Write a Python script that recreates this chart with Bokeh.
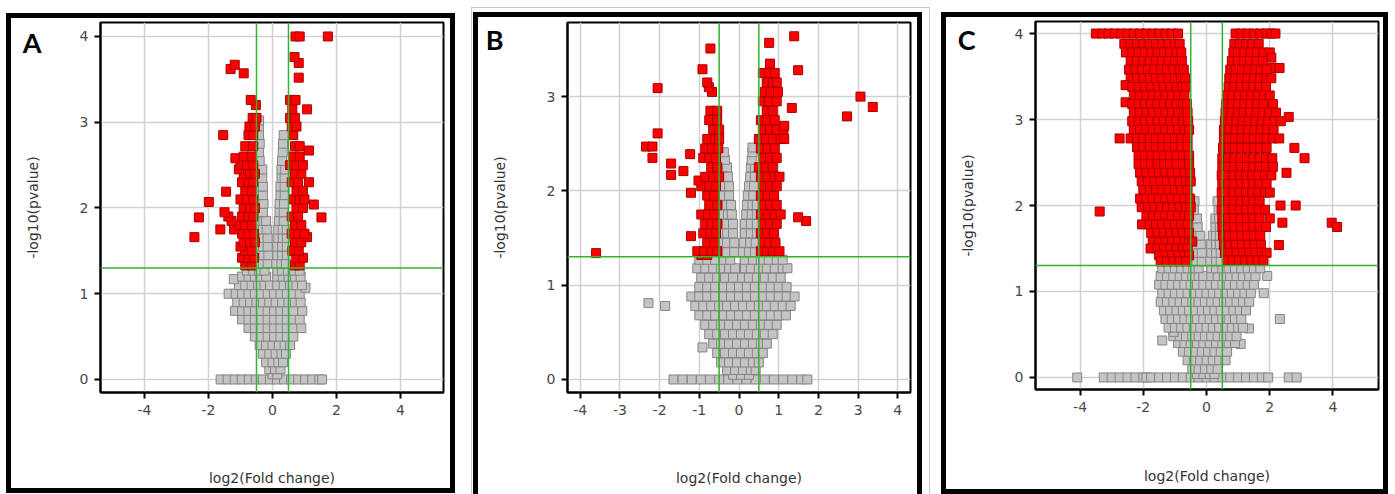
from bokeh.plotting import figure
from bokeh.models import Span, FixedTicker, Spacer, Range1d, LinearAxis
from bokeh.layouts import row, column
from bokeh.embed import file_html
from bokeh.resources import INLINE

X_LABEL = "log2(Fold change)"
Y_LABEL = "-log10(pvalue)"
FC_CUTOFF = [-0.5, 0.5]
P_CUTOFF = 1.30103
PANEL_LETTERS = ["A", "B", "C"]

# ---------------- Panel A ----------------
A_XTICKS = [-4, -2, 0, 2, 4]
A_XTICK_LABELS = ["-4", "-2", "0", "2", "4"]
A_YTICKS = [0, 1, 2, 3, 4]
A_GRAY_ROWS = [
    (0.0, [-1.62, -1.40, -1.18, -0.96, -0.74, -0.52, -0.30, -0.08, 0.14, 0.36, 0.58, 0.80, 1.02, 1.24, 1.46, 1.55]),
    (0.06, [0.0, 0.15]),
    (0.12, [-0.1, 0.08, 0.25]),
    (0.2, [-0.2, 0.0, 0.18, 0.33]),
    (0.3, [-0.3, -0.1, 0.1, 0.28, 0.42]),
    (0.4, [-0.4, -0.2, 0.0, 0.2, 0.38, 0.55]),
    (0.5, [-0.55, -0.35, -0.15, 0.05, 0.25, 0.45, 0.65]),
    (0.6, [-0.75, -0.55, -0.35, -0.15, 0.05, 0.25, 0.45, 0.65, 0.9]),
    (0.7, [-0.95, -0.75, -0.55, -0.35, -0.15, 0.05, 0.25, 0.45, 0.65, 0.85]),
    (0.8, [-1.17, -0.95, -0.75, -0.55, -0.35, -0.15, 0.05, 0.25, 0.45, 0.65, 0.93]),
    (0.9, [-1.1, -0.9, -0.7, -0.5, -0.3, -0.1, 0.1, 0.3, 0.5, 0.7, 0.88]),
    (1.0, [-1.37, -1.15, -0.95, -0.75, -0.55, -0.35, -0.15, 0.05, 0.25, 0.45, 0.65, 0.85]),
    (1.07, [1.03]),
    (1.1, [-1.05, -0.85, -0.65, -0.45, -0.25, -0.08, 0.15, 0.35, 0.55, 0.75, 0.92]),
    (1.17, [-1.21]),
    (1.2, [-0.95, -0.75, -0.55, -0.38, -0.2, 0.15, 0.32, 0.5, 0.7, 0.88]),
    (1.27, [-0.8, -0.6, -0.42, -0.25, 0.15, 0.3, 0.48, 0.68, 0.85]),
    (1.35, [-0.45, -0.3, -0.15, 0.12, 0.28, 0.42]),
    (1.45, [-0.42, -0.28, -0.13, 0.15, 0.3, 0.45]),
    (1.55, [-0.45, -0.3, -0.15, 0.15, 0.3, 0.45]),
    (1.65, [-0.42, -0.28, -0.15, 0.18, 0.32, 0.45]),
    (1.75, [-0.45, -0.3, -0.18, 0.18, 0.32, 0.45]),
    (1.85, [-0.42, -0.28, -0.2, 0.2, 0.35]),
    (1.95, [-0.45, -0.3, 0.22, 0.35]),
    (2.05, [-0.42, -0.28, 0.22, 0.36]),
    (2.15, [-0.4, -0.3, 0.25, 0.38]),
    (2.25, [-0.42, -0.3, 0.25, 0.38]),
    (2.35, [-0.4, -0.32, 0.28, 0.38]),
    (2.45, [-0.42, -0.32, 0.28, 0.4]),
    (2.55, [-0.4, 0.3]),
    (2.65, [-0.42, 0.32]),
    (2.75, [-0.4, 0.33]),
    (2.85, [-0.42, 0.35]),
    (2.95, [-0.42]),
    (3.02, [-0.42]),
]
A_RED_ROWS = [
    (1.33, [-0.85, -0.65, 0.7, 0.85]),
    (1.42, [-0.95, -0.75, -0.58, 0.75, 0.95]),
    (1.5, [-0.85, -0.65, 0.62, 0.82]),
    (1.55, [-1.0]),
    (1.6, [-0.9, -0.7, -0.55, 0.7, 0.9]),
    (1.66, [-2.44, 1.08]),
    (1.7, [-0.95, -0.75, -0.58, 0.6, 0.8, 1.0]),
    (1.75, [-1.63, -1.2]),
    (1.8, [-1.05, -0.85, -0.65, 0.7, 0.9]),
    (1.85, [-1.28]),
    (1.89, [-2.3, 1.53]),
    (1.9, [-1.38, -0.95, -0.75, -0.6, 0.6, 0.8]),
    (1.95, [-1.5]),
    (2.0, [-0.9, -0.7, -0.55, 0.75, 0.95]),
    (2.04, [1.29]),
    (2.07, [-1.99]),
    (2.1, [-1.0, -0.8, -0.6, 0.65, 0.85, 1.0]),
    (2.19, [-1.45]),
    (2.2, [-0.85, -0.65, 0.75, 0.95]),
    (2.3, [-0.95, -0.75, -0.6, 0.6, 0.8, 1.14]),
    (2.4, [-0.9, -0.7, -0.55, 0.7, 0.9]),
    (2.45, [-1.05]),
    (2.5, [-1.0, -0.8, -0.6, 0.55, 0.75, 0.95]),
    (2.58, [-1.16]),
    (2.6, [-0.9, -0.65, 0.65, 0.85]),
    (2.67, [1.14]),
    (2.72, [-0.85, -0.6, 0.7, 0.85]),
    (2.85, [-1.54, -0.75, -0.6, 0.65]),
    (2.95, [-0.72, -0.55, 0.6, 0.75]),
    (3.05, [-0.62, -0.5, 0.55, 0.7]),
    (3.15, [0.62, 1.08]),
    (3.2, [-0.52]),
    (3.26, [-0.68, 0.55, 0.72]),
    (3.52, [0.82]),
    (3.57, [-0.9]),
    (3.62, [-1.31]),
    (3.67, [-1.18]),
    (3.69, [0.82]),
    (3.76, [0.69]),
    (4.0, [0.72, 0.85, 1.73]),
]

# ---------------- Panel B ----------------
B_XTICKS = [-4, -3, -2, -1, 0, 1, 2, 3, 4]
B_XTICK_LABELS = ["-4", "-3", "-2", "-1", "0", "1", "2", "3", "4"]
B_YTICKS = [0, 1, 2, 3]
B_GRAY_ROWS = [
    (0.0, [-1.65, -1.42, -1.19, -0.96, -0.73, -0.5, -0.27, -0.04, 0.19, 0.42, 0.65, 0.88, 1.11, 1.34, 1.57, 1.72]),
    (0.05, [-0.15, 0.05, 0.25]),
    (0.1, [-0.3, -0.1, 0.1, 0.3, 0.42]),
    (0.18, [-0.45, -0.25, -0.05, 0.15, 0.35, 0.5]),
    (0.28, [-0.55, -0.35, -0.15, 0.05, 0.25, 0.45, 0.6]),
    (0.34, [-0.92]),
    (0.38, [-0.65, -0.45, -0.25, -0.05, 0.15, 0.35, 0.55, 0.7]),
    (0.48, [-0.75, -0.55, -0.35, -0.15, 0.05, 0.25, 0.45, 0.65, 0.85]),
    (0.58, [-0.85, -0.65, -0.45, -0.25, -0.05, 0.15, 0.35, 0.55, 0.75, 0.95]),
    (0.68, [-1.0, -0.8, -0.6, -0.4, -0.2, 0.0, 0.2, 0.4, 0.6, 0.8, 1.0, 1.18]),
    (0.78, [-1.86, -1.1, -0.9, -0.7, -0.5, -0.3, -0.1, 0.1, 0.3, 0.5, 0.7, 0.9, 1.1, 1.3]),
    (0.81, [-2.28]),
    (0.88, [-1.2, -1.0, -0.8, -0.6, -0.4, -0.2, 0.0, 0.2, 0.4, 0.6, 0.8, 1.0, 1.2, 1.4]),
    (0.98, [-1.0, -0.8, -0.6, -0.4, -0.2, 0.0, 0.2, 0.4, 0.6, 0.8, 1.0, 1.2]),
    (1.08, [-0.95, -0.75, -0.55, -0.35, -0.15, 0.08, 0.25, 0.45, 0.65, 0.85, 1.05]),
    (1.18, [-1.05, -0.85, -0.65, -0.45, -0.25, -0.1, 0.15, 0.3, 0.5, 0.7, 0.9, 1.1, 1.22]),
    (1.27, [-1.0, -0.8, -0.6, -0.4, -0.22, 0.15, 0.35, 0.55, 0.75, 0.95, 1.1]),
    (1.35, [-0.45, -0.3, -0.12, 0.1, 0.25, 0.4]),
    (1.45, [-0.45, -0.3, -0.12, 0.12, 0.28, 0.42]),
    (1.55, [-0.45, -0.3, -0.15, 0.15, 0.3, 0.45]),
    (1.65, [-0.45, -0.3, -0.15, 0.15, 0.3, 0.45]),
    (1.75, [-0.42, -0.28, -0.18, 0.18, 0.32, 0.45]),
    (1.85, [-0.45, -0.3, -0.2, 0.2, 0.34, 0.45]),
    (1.95, [-0.4, -0.25, 0.22, 0.36]),
    (2.05, [-0.42, -0.25, 0.25, 0.38]),
    (2.15, [-0.38, -0.28, 0.28, 0.4]),
    (2.25, [-0.4, -0.3, 0.3, 0.4]),
    (2.33, [-0.35, 0.32]),
    (2.41, [-0.38, 0.34]),
    (2.46, [0.34]),
]
B_RED_ROWS = [
    (1.32, [-0.95, -0.8]),
    (1.34, [-3.6]),
    (1.36, [-1.05, -0.88, -0.7, -0.55, 0.55, 0.7, 0.85, 1.02]),
    (1.45, [-0.8, -0.62, 0.6, 0.75, 0.92]),
    (1.52, [-1.21]),
    (1.55, [-0.9, -0.72, -0.58, 0.55, 0.7, 0.88]),
    (1.65, [-0.85, -0.7, -0.55, 0.6, 0.78, 0.95]),
    (1.68, [1.69]),
    (1.72, [1.49]),
    (1.75, [-0.95, -0.78, -0.62, 0.55, 0.72, 0.9, 1.05]),
    (1.85, [-0.75, -0.55, 0.6, 0.78, 0.95]),
    (1.95, [-0.8, -0.62, 0.55, 0.72, 0.88]),
    (1.98, [-1.21]),
    (2.05, [-0.95, -0.75, -0.58, 0.6, 0.78, 0.95]),
    (2.11, [-1.02]),
    (2.15, [-0.85, -0.65, -0.5, 0.55, 0.72, 0.9, 1.02]),
    (2.17, [-1.71]),
    (2.21, [-1.4]),
    (2.25, [-0.7, -0.55, 0.5, 0.68, 0.85]),
    (2.29, [-1.71]),
    (2.35, [-2.18, -0.9, -0.75, -0.58, 0.6, 0.78, 0.95]),
    (2.39, [-1.23]),
    (2.45, [-0.85, -0.68, -0.52, 0.55, 0.72, 0.9]),
    (2.47, [-2.34, -2.18]),
    (2.55, [-0.8, -0.6, -0.5, 0.5, 0.68, 0.85, 1.05, 1.14]),
    (2.61, [-2.05]),
    (2.65, [-0.65, -0.5, 0.6, 0.78, 0.95, 1.12]),
    (2.69, [1.14]),
    (2.75, [-0.75, -0.55, 0.55, 0.7, 0.9]),
    (2.79, [2.72]),
    (2.85, [-0.72, -0.55, 0.7, 0.85]),
    (2.88, [1.33]),
    (2.89, [3.37]),
    (2.95, [0.6, 0.75, 0.95]),
    (3.0, [3.06]),
    (3.05, [-0.68, 0.65, 0.8, 0.98]),
    (3.09, [-2.05]),
    (3.1, [-0.76]),
    (3.15, [-0.8, 0.7, 0.85, 0.95]),
    (3.25, [0.6, 0.75, 0.9]),
    (3.28, [1.49]),
    (3.29, [-0.92]),
    (3.35, [0.78]),
    (3.51, [-0.72]),
    (3.57, [0.76]),
    (3.64, [1.39]),
]

# ---------------- Panel C ----------------
C_XTICKS = [-4, -2, 0, 2, 4]
C_XTICK_LABELS = ["-4", "-2", "0", "2", "4"]
C_YTICKS = [0, 1, 2, 3, 4]
C_GRAY_ROWS = [
    (0.0, [-4.09, -3.25, -3.0, -2.75, -2.5, -2.25, -2.0, -1.9, -1.75, -1.5, -1.25, -1.0, -0.75, -0.5, -0.25,
           0.0, 0.25, 0.5, 0.75, 1.0, 1.25, 1.5, 1.75, 1.95, 2.6, 2.85]),
    (0.04, [-0.3, -0.1, 0.1, 0.25]),
    (0.1, [-0.45, -0.25, -0.05, 0.15, 0.35]),
    (0.2, [-0.6, -0.4, -0.2, 0.0, 0.2, 0.4, 0.6]),
    (0.3, [-0.75, -0.55, -0.35, -0.15, 0.05, 0.25, 0.45, 0.65]),
    (0.39, [1.08]),
    (0.4, [-0.9, -0.7, -0.5, -0.3, -0.1, 0.1, 0.3, 0.5, 0.7, 0.9]),
    (0.43, [-1.4]),
    (0.48, [-1.05, -0.85, -0.65, -0.45, -0.25, -0.05, 0.15, 0.35, 0.55, 0.75, 0.95]),
    (0.53, [-1.04]),
    (0.57, [1.34]),
    (0.58, [-1.2, -1.0, -0.8, -0.6, -0.4, -0.2, 0.0, 0.2, 0.4, 0.6, 0.8, 1.0, 1.15]),
    (0.68, [-1.3, -1.1, -0.9, -0.7, -0.5, -0.3, -0.1, 0.1, 0.3, 0.5, 0.7, 0.9, 1.1, 2.32]),
    (0.78, [-1.35, -1.15, -0.95, -0.75, -0.55, -0.35, -0.15, 0.05, 0.25, 0.45, 0.65, 0.85, 1.05, 1.25]),
    (0.88, [-1.45, -1.25, -1.05, -0.85, -0.65, -0.45, -0.25, -0.05, 0.15, 0.35, 0.55, 0.75, 0.95, 1.15, 1.35]),
    (0.98, [-1.4, -1.2, -1.0, -0.8, -0.6, -0.4, -0.2, 0.0, 0.2, 0.4, 0.6, 0.8, 1.0, 1.2, 1.4, 1.81]),
    (1.08, [-1.5, -1.3, -1.1, -0.9, -0.7, -0.5, -0.3, -0.1, 0.12, 0.3, 0.5, 0.7, 0.9, 1.1, 1.3, 1.5]),
    (1.18, [-1.45, -1.25, -1.05, -0.85, -0.65, -0.45, -0.25, -0.1, 0.15, 0.35, 0.55, 0.75, 0.95, 1.15, 1.35, 1.55, 1.92]),
    (1.27, [-1.4, -1.2, -1.0, -0.8, -0.6, -0.42, -0.25, 0.15, 0.3, 0.5, 0.7, 0.9, 1.1, 1.3, 1.5, 1.7]),
    (1.35, [-0.48, -0.32, -0.15, 0.12, 0.3, 0.45]),
    (1.45, [-0.45, -0.3, -0.15, 0.15, 0.3, 0.45]),
    (1.55, [-0.45, -0.3, -0.18, 0.15, 0.3, 0.42]),
    (1.65, [-0.45, -0.3, -0.2, 0.2, 0.3, 0.42]),
    (1.75, [-0.45, -0.28, 0.28, 0.42]),
    (1.85, [-0.42, -0.3, 0.28, 0.4]),
    (1.95, [-0.4, 0.38]),
    (2.05, [-0.38, 0.35]),
]
C_RED_LEFT_ROWS = [
    (4.0, [-3.5, -3.3, -3.1, -2.9, -2.7, -2.5, -2.3, -2.1, -1.9, -1.7, -1.5, -1.3, -1.1, -0.9]),
    (3.88, [-2.6, -2.4, -2.2, -2.0, -1.8, -1.6, -1.4, -1.2, -1.0, -0.85]),
    (3.78, [-2.55, -2.35, -2.15, -1.95, -1.75, -1.55, -1.35, -1.15, -0.95, -0.8]),
    (3.68, [-2.4, -2.2, -2.0, -1.8, -1.6, -1.4, -1.2, -1.0, -0.78]),
    (3.58, [-2.45, -2.25, -2.05, -1.85, -1.65, -1.45, -1.25, -1.05, -0.85, -0.72]),
    (3.48, [-2.4, -2.2, -2.0, -1.8, -1.6, -1.4, -1.2, -1.0, -0.8, -0.68]),
    (3.4, [-2.56]),
    (3.38, [-2.35, -2.15, -1.95, -1.75, -1.55, -1.35, -1.15, -0.95, -0.75, -0.65]),
    (3.28, [-2.3, -2.1, -1.9, -1.7, -1.5, -1.3, -1.1, -0.9, -0.7]),
    (3.2, [-2.56]),
    (3.18, [-2.35, -2.15, -1.95, -1.75, -1.55, -1.35, -1.15, -0.95, -0.75, -0.62]),
    (3.08, [-2.3, -2.1, -1.9, -1.7, -1.5, -1.3, -1.1, -0.9, -0.7, -0.6]),
    (2.98, [-2.35, -2.15, -1.95, -1.75, -1.55, -1.35, -1.15, -0.95, -0.75, -0.58]),
    (2.88, [-2.3, -2.1, -1.9, -1.7, -1.5, -1.3, -1.1, -0.9, -0.7, -0.55]),
    (2.78, [-2.75, -2.4, -2.2, -2.0, -1.8, -1.6, -1.4, -1.2, -1.0, -0.8, -0.6]),
    (2.68, [-2.2, -2.0, -1.8, -1.6, -1.4, -1.2, -1.0, -0.8, -0.6]),
    (2.58, [-2.15, -1.95, -1.75, -1.55, -1.35, -1.15, -0.95, -0.75, -0.55]),
    (2.48, [-2.15, -1.95, -1.75, -1.55, -1.35, -1.15, -0.95, -0.75, -0.55]),
    (2.38, [-2.1, -1.9, -1.7, -1.5, -1.3, -1.1, -0.9, -0.7, -0.52]),
    (2.28, [-2.05, -1.85, -1.65, -1.45, -1.25, -1.05, -0.85, -0.65, -0.5]),
    (2.18, [-2.0, -1.8, -1.6, -1.4, -1.2, -1.0, -0.8, -0.6]),
    (2.08, [-2.1, -1.9, -1.7, -1.5, -1.3, -1.1, -0.9, -0.7, -0.52]),
    (1.98, [-2.05, -1.85, -1.65, -1.45, -1.25, -1.05, -0.85, -0.65, -0.5]),
    (1.93, [-3.38]),
    (1.88, [-1.9, -1.7, -1.5, -1.3, -1.1, -0.9, -0.7, -0.55]),
    (1.78, [-2.04, -1.8, -1.6, -1.4, -1.2, -1.0, -0.8, -0.6]),
    (1.68, [-1.75, -1.55, -1.35, -1.15, -0.95, -0.75, -0.55]),
    (1.58, [-1.7, -1.5, -1.3, -1.1, -0.9, -0.7, -0.55, -0.45]),
    (1.5, [-1.77, -1.55, -1.35, -1.15, -0.95, -0.75, -0.6]),
    (1.42, [-1.5, -1.3, -1.1, -0.9, -0.7, -0.55]),
    (1.35, [-1.45, -1.25, -1.05, -0.85, -0.65]),
]
C_RED_RIGHT_ROWS = [
    (4.0, [0.92, 1.1, 1.3, 1.5, 1.7, 1.9, 2.05, 2.18]),
    (3.88, [0.88, 1.05, 1.25, 1.45, 1.65]),
    (3.78, [0.85, 1.0, 1.2, 1.4, 1.6, 1.8, 2.0]),
    (3.72, [2.05]),
    (3.68, [0.8, 0.98, 1.18, 1.38, 1.58, 1.78]),
    (3.6, [2.1, 2.31]),
    (3.58, [0.75, 0.92, 1.12, 1.32, 1.52, 1.72, 1.9]),
    (3.48, [0.72, 0.9, 1.1, 1.3, 1.5, 1.7, 1.9, 2.05]),
    (3.38, [0.7, 0.88, 1.08, 1.28, 1.48, 1.68, 1.88]),
    (3.28, [0.65, 0.82, 1.02, 1.22, 1.42, 1.62, 1.82, 2.0]),
    (3.18, [0.62, 0.8, 1.0, 1.2, 1.4, 1.6, 1.8, 2.1]),
    (3.08, [0.6, 0.78, 0.98, 1.18, 1.38, 1.58, 1.78, 1.98, 2.2]),
    (3.03, [2.6]),
    (2.98, [0.58, 0.75, 0.95, 1.15, 1.35, 1.55, 1.75, 1.95, 2.15, 2.35]),
    (2.88, [0.55, 0.72, 0.92, 1.12, 1.32, 1.52, 1.72, 1.92, 2.12]),
    (2.78, [0.55, 0.7, 0.9, 1.1, 1.3, 1.5, 1.7, 1.9, 2.1, 2.3]),
    (2.67, [0.52, 0.7, 0.9, 1.1, 1.3, 1.5, 1.7, 1.9, 2.78]),
    (2.55, [0.5, 0.68, 0.88, 1.08, 1.28, 1.48, 1.68, 1.88, 2.08, 3.1]),
    (2.45, [0.5, 0.68, 0.88, 1.08, 1.28, 1.48, 1.68, 1.88, 2.1]),
    (2.38, [2.53]),
    (2.35, [0.48, 0.65, 0.85, 1.05, 1.25, 1.45, 1.65, 1.85, 2.05]),
    (2.25, [0.5, 0.68, 0.88, 1.08, 1.28, 1.48, 1.68, 1.9]),
    (2.15, [0.48, 0.65, 0.85, 1.05, 1.25, 1.45, 1.65, 1.85, 2.0]),
    (2.05, [0.5, 0.68, 0.88, 1.08, 1.28, 1.48, 1.68]),
    (2.0, [2.34, 2.82]),
    (1.95, [0.48, 0.65, 0.85, 1.05, 1.25, 1.45, 1.65, 1.85]),
    (1.85, [0.5, 0.68, 0.88, 1.08, 1.28, 1.48, 1.68, 2.0]),
    (1.8, [2.4, 3.96]),
    (1.75, [0.5, 0.68, 0.88, 1.08, 1.28, 1.48, 1.68, 1.88, 4.13]),
    (1.65, [0.52, 0.7, 0.9, 1.1, 1.3, 1.5, 1.7]),
    (1.54, [0.55, 0.72, 0.92, 1.12, 1.32, 1.52, 1.72, 2.29]),
    (1.45, [0.58, 0.75, 0.95, 1.15, 1.35, 1.55, 1.75, 1.9]),
    (1.36, [0.65, 0.82, 1.02, 1.22, 1.42, 1.62, 1.8]),
]


def expand(*row_sets):
    xs, ys = [], []
    for rows in row_sets:
        for yv, row_x in rows:
            xs.extend(row_x)
            ys.extend([yv] * len(row_x))
    return xs, ys


def make_panel(letter, letter_y, letter_standoff, gray, red, xr, yr, xticks, xlabels, yticks,
               width, height, mins, xlabel_standoff):
    p = figure(width=width, height=height, x_range=Range1d(*xr), y_range=Range1d(*yr),
               output_backend="svg", toolbar_location=None, title=None,
               min_border_left=mins[0], min_border_right=mins[1],
               min_border_top=mins[2], min_border_bottom=mins[3])
    p.background_fill_color = "white"
    p.border_fill_color = "white"
    p.outline_line_color = "black"
    p.outline_line_width = 2
    p.outline_line_alpha = 1.0

    p.grid.grid_line_color = "#d2d2d2"
    p.grid.grid_line_width = 1.5

    p.xaxis.ticker = FixedTicker(ticks=xticks)
    p.xaxis.major_label_overrides = {t: s for t, s in zip(xticks, xlabels)}
    p.yaxis.ticker = FixedTicker(ticks=yticks)
    p.xaxis.axis_label = X_LABEL
    p.yaxis.axis_label = Y_LABEL
    for ax in (p.xaxis[0], p.yaxis[0]):
        ax.axis_line_color = "black"
        ax.axis_line_width = 2
        ax.major_tick_line_color = "black"
        ax.major_tick_line_width = 2
        ax.major_tick_out = 6
        ax.major_tick_in = 0
        ax.minor_tick_line_color = None
        ax.major_label_text_font = "DejaVu Sans"
        ax.major_label_text_font_size = "14px"
        ax.major_label_text_color = "#484848"
        ax.major_label_standoff = 6
        ax.axis_label_text_font = "DejaVu Sans"
        ax.axis_label_text_font_size = "14px"
        ax.axis_label_text_font_style = "normal"
        ax.axis_label_text_color = "#333333"
    p.xaxis.axis_label_standoff = xlabel_standoff
    p.yaxis.axis_label_standoff = 36

    # panel letter, drawn as the single tick label of an outer left axis
    letter_axis = LinearAxis(ticker=FixedTicker(ticks=[letter_y]),
                             major_label_overrides={letter_y: letter})
    letter_axis.axis_line_color = None
    letter_axis.major_tick_line_color = None
    letter_axis.minor_tick_line_color = None
    letter_axis.major_tick_out = 0
    letter_axis.major_tick_in = 0
    letter_axis.major_label_standoff = letter_standoff
    letter_axis.major_label_text_font = "Lato"
    letter_axis.major_label_text_font_size = "27px"
    letter_axis.major_label_text_font_style = "bold"
    letter_axis.major_label_text_color = "black"
    p.add_layout(letter_axis, "left")

    gx, gy = gray
    rx, ry = red
    p.scatter(gx, gy, marker="square", size=9, fill_color="#c4c4c4",
              line_color="#858585", line_width=1)
    p.scatter(rx, ry, marker="square", size=9, fill_color="#ff0000",
              line_color="#a80000", line_width=1)

    for v in FC_CUTOFF:
        p.add_layout(Span(location=v, dimension="height", line_color="#2fb52f", line_width=1.5))
    p.add_layout(Span(location=P_CUTOFF, dimension="width", line_color="#2fb52f", line_width=1.5))
    return p


def bar(w, h, color=None):
    if color is None:
        return Spacer(width=w, height=h)
    return Spacer(width=w, height=h, styles={"background-color": color})


pA = make_panel(PANEL_LETTERS[0], 4.1, -20, expand(A_GRAY_ROWS), expand(A_RED_ROWS),
                (-5.375, 5.344), (-0.152, 4.163), A_XTICKS, A_XTICK_LABELS, A_YTICKS,
                439, 470, (89, 7, 4, 96), 52)
pB = make_panel(PANEL_LETTERS[1], 3.72, -15, expand(B_GRAY_ROWS), expand(B_RED_ROWS),
                (-4.32, 4.32), (-0.138, 3.786), B_XTICKS, B_XTICK_LABELS, B_YTICKS,
                439, 477, (89, 7, 5, 102), 52)
pC = make_panel(PANEL_LETTERS[2], 4.06, -19, expand(C_GRAY_ROWS), expand(C_RED_LEFT_ROWS, C_RED_RIGHT_ROWS),
                (-5.41, 5.44), (-0.14, 4.14), C_XTICKS, C_XTICK_LABELS, C_YTICKS,
                437, 472, (89, 5, 4, 100), 53)

K = "black"
G = "#c8c8c8"
block_a = row(bar(6, 494),
              column(bar(449, 13), bar(449, 5, K),
                     row(bar(5, 470, K), pA, bar(5, 470, K)),
                     bar(449, 5, K), bar(449, 1)))
block_b = column(bar(459, 7), bar(459, 1, G),
                 row(bar(1, 486, G), bar(1, 486),
                     column(bar(449, 4), bar(449, 5, K),
                            row(bar(5, 477, K), pB, bar(5, 477, K))),
                     bar(7, 486), bar(1, 486, G)))
block_c = column(bar(447, 12), bar(447, 5, K),
                 row(bar(5, 472, K), pC, bar(5, 472, K)),
                 bar(447, 5, K))

layout = row(block_a, bar(16, 494), block_b, bar(11, 494), block_c)
open("out.html", "w").write(file_html(layout, INLINE))
